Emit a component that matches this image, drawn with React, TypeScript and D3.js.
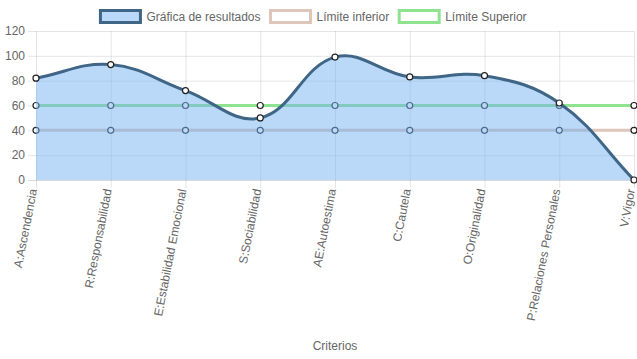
import { useEffect, useRef } from "react";
import * as d3 from "d3";

const W = 637;
const H = 359;

const categories = [
  "A:Ascendencia",
  "R:Responsabilidad",
  "E:Estabilidad Emocional",
  "S:Sociabilidad",
  "AE:Autoestima",
  "C:Cautela",
  "O:Originalidad",
  "P:Relaciones Personales",
  "V:Vigor",
];
const resultados = [82, 93, 72, 50, 99, 83, 84, 62, 0];
const limiteInferior = [40, 40, 40, 40, 40, 40, 40, 40, 40];
const limiteSuperior = [60, 60, 60, 60, 60, 60, 60, 60, 60];
const yTicks = [0, 20, 40, 60, 80, 100, 120];

const FONT = "'Helvetica Neue', Helvetica, Arial, sans-serif";
const TXT = "#666";

// chart.js style cubic spline (tension 0.4), control points capped to chart area
function splinePath(pts: [number, number][], top: number, bottom: number, left: number, right: number) {
  const t = 0.4;
  const cps = pts.map((p, i) => {
    const prev = pts[Math.max(0, i - 1)];
    const next = pts[Math.min(pts.length - 1, i + 1)];
    const d01 = Math.hypot(p[0] - prev[0], p[1] - prev[1]);
    const d12 = Math.hypot(next[0] - p[0], next[1] - p[1]);
    let s01 = d01 / (d01 + d12);
    let s12 = d12 / (d01 + d12);
    if (isNaN(s01)) s01 = 0;
    if (isNaN(s12)) s12 = 0;
    const fa = t * s01;
    const fb = t * s12;
    const clampX = (v: number) => Math.max(left, Math.min(right, v));
    const clampY = (v: number) => Math.max(top, Math.min(bottom, v));
    return {
      c1: [clampX(p[0] - fa * (next[0] - prev[0])), clampY(p[1] - fa * (next[1] - prev[1]))],
      c2: [clampX(p[0] + fb * (next[0] - prev[0])), clampY(p[1] + fb * (next[1] - prev[1]))],
    };
  });
  const path = d3.path();
  path.moveTo(pts[0][0], pts[0][1]);
  for (let i = 1; i < pts.length; i++) {
    const a = cps[i - 1].c2;
    const b = cps[i].c1;
    path.bezierCurveTo(a[0], a[1], b[0], b[1], pts[i][0], pts[i][1]);
  }
  return path.toString();
}

const App = () => {
  const svgRef = useRef<SVGSVGElement>(null);

  useEffect(() => {
    document.body.style.margin = "0";
    const svg = d3.select(svgRef.current);
    svg.selectAll("*").remove();

    const left = 36;
    const right = 634;
    const top = 31;
    const bottom = 180;

    const x = d3.scalePoint<string>().domain(categories).range([left, right]);
    const y = d3.scaleLinear().domain([0, 120]).range([bottom, top]);

    const g = svg.append("g");

    // grid
    g.selectAll(".hgrid")
      .data(yTicks)
      .join("line")
      .attr("x1", left - 8)
      .attr("x2", right)
      .attr("y1", (d) => y(d) + 0.5)
      .attr("y2", (d) => y(d) + 0.5)
      .attr("stroke", (d) => (d === 0 ? "rgba(0,0,0,0.15)" : "rgba(0,0,0,0.1)"))
      .attr("stroke-width", 1);

    g.selectAll(".vgrid")
      .data(categories)
      .join("line")
      .attr("x1", (d) => x(d)! + 0.5)
      .attr("x2", (d) => x(d)! + 0.5)
      .attr("y1", top)
      .attr("y2", bottom + 8)
      .attr("stroke", "rgba(0,0,0,0.1)")
      .attr("stroke-width", 1);

    // y labels
    g.selectAll(".ylab")
      .data(yTicks)
      .join("text")
      .attr("x", 25)
      .attr("y", (d) => y(d))
      .attr("dy", "0.35em")
      .attr("text-anchor", "end")
      .attr("font-family", FONT)
      .attr("font-size", 12)
      .attr("fill", TXT)
      .text((d) => d);

    // x labels
    g.selectAll(".xlab")
      .data(categories)
      .join("text")
      .attr("transform", (d) => `translate(${x(d)! - 3},${bottom + 9}) rotate(-79)`)
      .attr("text-anchor", "end")
      .attr("dy", "0.35em")
      .attr("font-family", FONT)
      .attr("font-size", 12)
      .attr("fill", TXT)
      .text((d) => d);

    g.append("text")
      .attr("x", (left + right) / 2)
      .attr("y", 350)
      .attr("text-anchor", "middle")
      .attr("font-family", FONT)
      .attr("font-size", 12)
      .attr("fill", TXT)
      .text("Criterios");

    const drawLimit = (vals: number[], color: string) => {
      const line = d3
        .line<number>()
        .x((_, i) => x(categories[i])!)
        .y((d) => y(d));
      g.append("path")
        .attr("d", line(vals))
        .attr("fill", "none")
        .attr("stroke", color)
        .attr("stroke-width", 3);
    };
    const drawPoints = (vals: number[]) => {
      g.append("g")
        .selectAll("circle")
        .data(vals)
        .join("circle")
        .attr("cx", (_, i) => x(categories[i])!)
        .attr("cy", (d) => y(d))
        .attr("r", 3)
        .attr("fill", "#fff")
        .attr("stroke", "#222")
        .attr("stroke-width", 1.2);
    };

    drawLimit(limiteSuperior, "#8fe28f");
    drawPoints(limiteSuperior);
    drawLimit(limiteInferior, "#dfc6bb");
    drawPoints(limiteInferior);

    // results
    const pts = resultados.map((v, i) => [x(categories[i])!, y(v)] as [number, number]);
    const linePath = splinePath(pts, top, bottom, left, right);
    g.append("path")
      .attr("d", `${linePath}L${right},${y(0)}L${left},${y(0)}Z`)
      .attr("fill", "rgba(117,178,240,0.5)");
    g.append("path")
      .attr("d", linePath)
      .attr("fill", "none")
      .attr("stroke", "#3f6687")
      .attr("stroke-width", 3);
    drawPoints(resultados);

    // legend
    const items = [
      { label: "Gráfica de resultados", fill: "rgba(117,178,240,0.5)", stroke: "#3f6687" },
      { label: "Límite inferior", fill: "#fff", stroke: "#dfc6bb" },
      { label: "Límite Superior", fill: "#fff", stroke: "#8fe28f" },
    ];
    const lg = svg.append("g");
    const widths: number[] = [];
    items.forEach((it) => {
      const t = lg
        .append("text")
        .attr("font-family", FONT)
        .attr("font-size", 12)
        .text(it.label);
      widths.push((t.node() as SVGTextElement).getComputedTextLength());
      t.remove();
    });
    const itemW = widths.map((w) => 40 + 6 + w + 10);
    const total = d3.sum(itemW);
    let cx = (W - total) / 2;
    items.forEach((it, i) => {
      lg.append("rect")
        .attr("x", cx)
        .attr("y", 10.5)
        .attr("width", 40)
        .attr("height", 12)
        .attr("fill", it.fill)
        .attr("stroke", it.stroke)
        .attr("stroke-width", 3);
      lg.append("text")
        .attr("x", cx + 46)
        .attr("y", 16.5)
        .attr("dy", "0.35em")
        .attr("font-family", FONT)
        .attr("font-size", 12)
        .attr("fill", TXT)
        .text(it.label);
      cx += itemW[i];
    });
  }, []);

  return <svg ref={svgRef} width={W} height={H} style={{ display: "block" }} />;
};

export default App;
